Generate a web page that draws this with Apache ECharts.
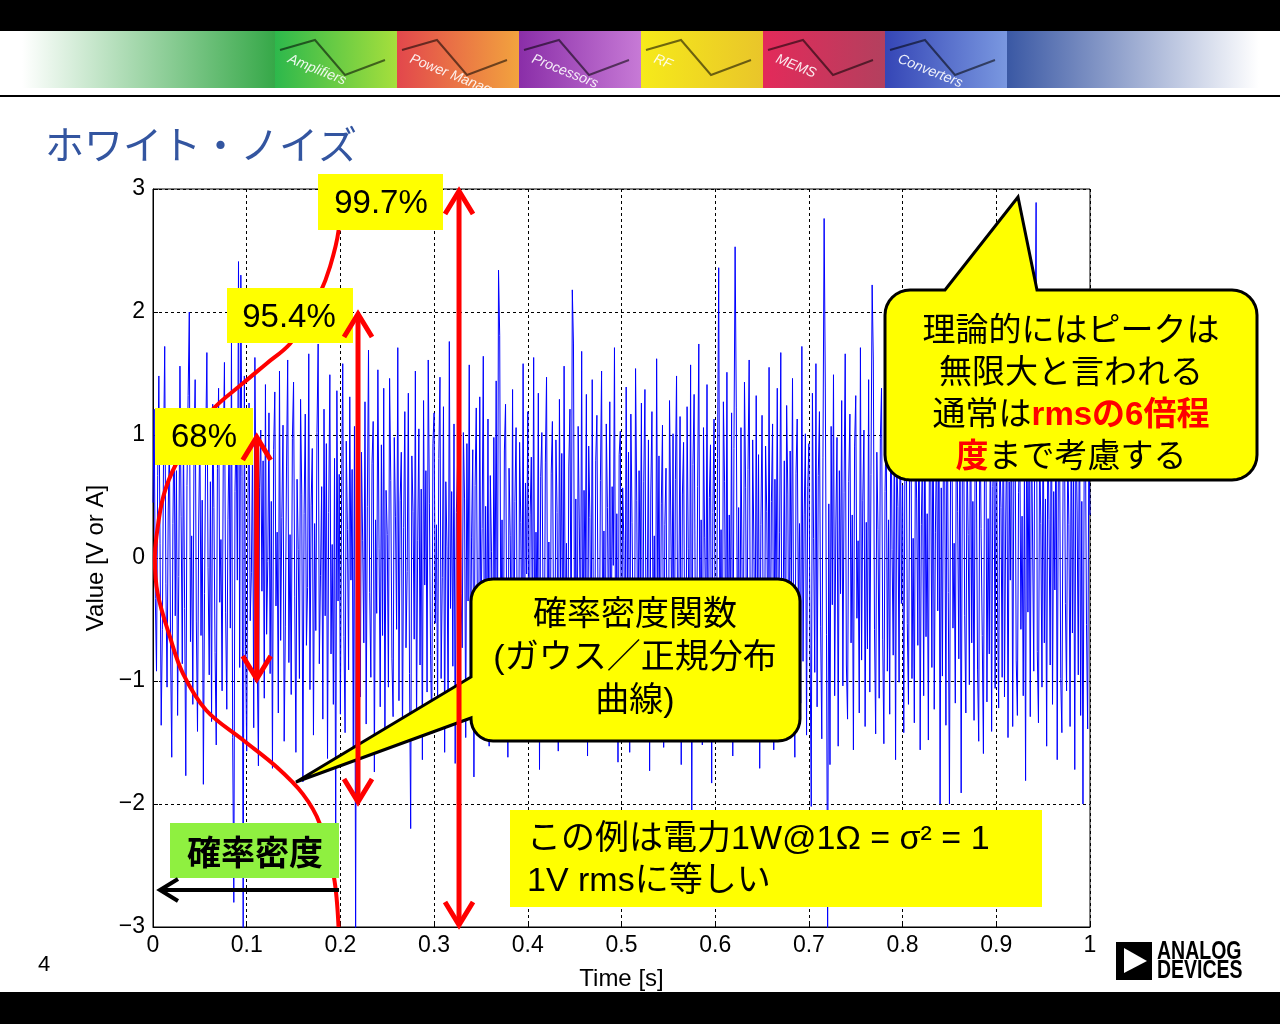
<!DOCTYPE html>
<html><head><meta charset="utf-8">
<script src="https://cdn.jsdelivr.net/npm/echarts/dist/echarts.min.js"></script>
<style>html,body{margin:0;padding:0;background:#fff}#c{width:1280px;height:1024px}</style>
</head><body><div id="c"></div>
<script>
// ---- data ----
const noiseValues = [
0.45,1.21,-0.33,-0.92,0.67,1.48,0.12,-1.36,-0.58,0.83,1.72,-0.21,-1.05,0.39,0.96,-0.74,-1.62,0.28,1.14,-0.47,
0.71,-1.28,-0.15,1.56,0.34,-0.86,1.03,-0.41,-1.77,0.59,1.32,2.0,-0.68,0.18,-1.19,0.87,1.45,-0.52,-1.41,0.26,
1.09,-0.63,0.47,-1.84,-0.29,0.94,1.67,-0.08,-0.95,0.62,-1.33,1.25,0.41,-0.77,-1.52,0.73,1.38,-0.36,0.15,-1.08,
0.82,1.59,-0.44,-1.23,0.31,0.99,-0.57,1.77,-1.46,-2.8,0.54,1.12,-0.18,2.41,-0.89,2.3,0.66,-3.1,1.48,-0.72,
-1.57,0.38,1.26,-0.51,-0.12,0.91,-1.38,1.63,0.24,-0.83,-1.69,0.57,1.04,-0.27,0.79,-1.14,1.41,-0.62,-0.03,1.18,
-0.94,0.46,-1.71,0.88,1.35,-0.39,0.21,-1.26,1.52,-0.67,0.33,1.08,-1.49,-0.56,0.74,1.61,-0.85,0.19,-1.11,0.97,
1.43,-0.31,-1.58,0.64,0.07,-0.98,1.29,0.52,-1.82,0.36,1.17,-0.71,-0.24,1.66,-1.07,0.43,0.89,-1.44,0.28,-0.59,
1.02,1.74,-0.86,-0.14,0.58,-1.31,1.21,-0.47,0.93,-1.63,0.37,1.49,-0.78,0.11,-1.19,0.81,-2.4,1.36,-0.35,0.68,
-1.27,0.49,1.58,-0.64,-1.42,0.95,0.23,-0.91,1.31,-0.18,0.72,-1.56,1.07,-3.05,0.61,1.44,-0.52,-1.13,0.86,0.14,
-0.69,1.27,-1.35,0.42,1.69,-0.28,-0.97,0.77,1.11,-1.74,0.31,-0.45,1.53,0.08,-1.21,0.92,-0.63,1.38,-1.48,0.55,
0.19,-1.05,1.46,0.63,-0.82,-1.29,0.98,0.34,-0.58,1.71,-1.16,0.47,0.86,-1.51,0.25,1.19,-0.73,-0.11,1.34,-0.94,
-2.2,0.83,0.38,-0.66,1.52,-1.37,0.14,1.05,-0.87,0.56,-1.64,1.28,-0.22,0.71,-1.09,1.61,0.44,-0.79,-1.43,0.93,
1.18,-0.53,0.27,-1.22,0.81,1.47,-0.98,-0.16,1.23,-1.58,0.62,0.09,-1.31,1.76,-0.41,0.54,-0.88,1.09,-1.67,0.37,
0.76,-1.14,1.38,-0.29,-0.73,1.02,0.48,-1.46,0.93,-0.35,1.57,-1.03,0.17,0.88,-1.78,0.59,1.22,-0.47,-0.95,1.31,
-0.61,0.24,1.64,-1.19,0.42,-0.84,1.13,-1.53,0.67,0.05,-1.26,0.98,-0.38,1.44,-1.01,2.34,1.81,-0.72,0.31,-1.39,
0.87,1.25,-0.56,-1.62,0.73,0.18,-0.94,1.37,-1.18,0.46,1.06,-0.69,-1.44,0.94,0.29,-0.83,1.58,-1.27,0.61,-0.13,
1.19,-1.49,0.35,0.82,-0.77,1.63,-1.06,0.21,-0.48,1.34,-1.72,0.66,1.02,-0.32,-1.13,0.78,1.47,-0.91,0.13,-1.35,
0.69,1.11,-0.59,-1.28,0.96,0.37,-1.57,1.29,-0.24,0.85,-1.09,1.56,-0.66,0.12,-1.41,0.74,1.21,-0.87,2.18,1.74,
-0.93,0.48,-1.36,1.07,0.26,-0.71,1.68,-1.24,0.55,-0.17,1.33,-1.61,0.91,0.33,-1.02,1.45,-0.54,-1.31,0.79,1.16,
-0.46,-1.18,0.63,1.52,-0.89,0.22,-1.47,1.09,0.41,-0.76,1.27,-1.33,0.58,-0.06,1.71,-0.97,0.36,-1.66,0.84,1.03,
-1.21,0.57,0.14,-0.92,1.39,-0.44,0.86,-1.58,1.17,0.29,-0.68,-1.38,1.54,0.47,-1.04,0.71,-0.23,1.26,-1.49,0.62,
1.37,-0.81,-0.27,0.96,-1.73,0.52,1.19,-0.61,0.18,-1.25,1.62,-0.39,0.83,-1.12,0.44,1.08,-1.54,0.27,0.73,-0.96,
-1.43,1.28,0.39,-0.58,1.01,-1.19,0.64,1.48,-0.86,-0.21,1.15,-1.68,0.52,0.94,-0.73,-1.36,1.23,0.08,-0.99,1.57,
-2.1,0.76,1.33,-0.42,-1.09,0.58,1.74,-0.95,0.31,-1.52,1.06,0.17,-0.64,1.41,-1.27,0.49,0.92,-1.83,0.37,1.13,
-0.55,-1.16,0.81,2.36,-0.74,0.23,-1.42,1.27,0.62,-0.97,1.51,-1.08,0.35,-0.46,1.18,-1.61,0.89,2.53,1.22,-0.81,
0.41,-1.35,1.06,-0.19,-0.88,1.43,0.57,-1.24,0.72,1.61,-0.66,-1.47,0.96,0.13,-1.01,1.32,-0.53,0.84,-1.71,0.27,
1.16,-0.62,-1.29,0.91,0.38,-0.83,1.55,-1.14,0.46,1.09,-1.56,0.64,-0.31,1.38,-0.92,0.21,1.67,-1.23,-0.44,0.79,
-1.06,1.24,0.52,-1.39,0.87,-0.25,1.46,-0.78,-1.62,0.69,1.13,-0.47,0.28,-1.18,1.72,-0.84,0.35,1.01,-1.44,0.58,
0.93,-0.71,-2.02,1.34,0.16,-0.93,1.58,-1.21,0.67,1.19,-0.56,-1.47,0.82,2.76,1.39,-0.62,-3.1,0.44,-1.68,1.07,
-0.38,1.49,-1.12,0.26,0.98,-1.53,0.71,-0.29,1.28,-1.04,0.53,1.66,-0.87,-1.31,0.62,1.17,-0.69,0.35,-1.56,0.91,
1.32,-0.49,0.14,-1.26,1.71,-0.83,0.47,1.04,-1.37,0.29,-0.74,1.45,-1.09,0.68,2.22,1.61,-0.58,-1.43,0.86,0.23,
-1.14,0.97,1.38,-0.66,-1.51,0.54,1.12,-0.92,0.31,-1.27,1.54,0.07,-0.79,1.23,-1.64,0.83,0.42,-1.01,1.36,-0.37,
0.59,-1.42,0.88,1.27,-0.53,-1.19,0.74,1.63,-0.98,0.16,-1.34,1.06,0.48,-0.71,1.48,-1.56,0.27,0.93,-1.12,1.19,
-0.64,0.36,-1.48,1.14,0.79,-0.89,1.52,-1.23,0.21,0.98,-0.43,1.36,-2.0,0.57,-0.96,1.22,0.63,-1.36,1.69,-0.28,
-2.0,0.84,1.29,-0.57,0.12,-1.18,1.46,0.38,-0.82,1.07,-1.91,0.66,1.34,-0.47,-1.26,0.92,0.19,-1.03,1.58,-0.69,
0.46,-1.32,1.11,0.73,-0.91,-1.49,1.37,0.24,-0.63,-1.59,0.97,1.43,-1.17,0.32,-0.78,1.26,-1.41,0.58,0.87,-1.06,
1.54,-0.34,-1.22,0.89,0.41,-0.97,1.67,-1.13,0.26,1.08,-1.46,0.62,-0.18,1.31,-1.37,0.77,1.19,-0.83,-1.28,0.53,
1.02,-0.58,0.34,-1.12,0.69,-1.81,1.43,-0.44,0.86,-1.29,1.21,0.13,-0.92,1.57,2.89,-0.76,-1.34,0.97,0.28,-1.05,
1.36,-0.69,0.48,-1.53,1.13,0.31,-0.87,1.62,-1.19,0.54,-0.26,1.28,-1.64,0.79,1.05,-0.98,-1.42,0.63,1.47,-0.37,
-1.08,0.92,0.27,-1.37,1.24,-0.61,0.83,-1.72,1.16,0.39,-0.95,1.51,-1.28,0.46,-2.0,0.71,1.18,-0.54,-1.39,0.96,
0.35
];
const pdfCurveX = [0.200,0.198,0.189,0.178,0.163,0.146,0.121,0.096,0.064,0.045,0.025,0.011,0.0036,0.002,0.005,0.018,0.032,0.057,0.096,0.132,0.160,0.178,0.193,0.198];
const pdfCurveY = [3.0,2.66,2.37,2.15,1.95,1.74,1.58,1.42,1.21,1.0,0.77,0.5,0.17,0,-0.29,-0.64,-0.94,-1.24,-1.48,-1.70,-1.92,-2.16,-2.59,-3.0];
const arrowX = [0.1107, 0.2188, 0.3266];
const arrowHalfSpan = [1, 2, 3];
const percentLabels = ['68%', '95.4%', '99.7%'];

// ---- styling ----
const LAT = "'Liberation Sans', Arial, 'Noto Sans CJK JP', sans-serif";
const JP = "'Liberation Sans', 'Noto Sans CJK JP', sans-serif";
const Z = 50;
const bannerSegs = [
  {x:275, c1:'#2db84c', c2:'#a6df3c', label:'Amplifiers'},
  {x:397, c1:'#e2474c', c2:'#f2a33e', label:'Power Management'},
  {x:519, c1:'#8a2ea8', c2:'#c77ad6', label:'Processors'},
  {x:641, c1:'#f6ea1a', c2:'#e9c52a', label:'RF'},
  {x:763, c1:'#e32a5a', c2:'#b3405e', label:'MEMS'},
  {x:885, c1:'#3546b6', c2:'#7a98e0', label:'Converters'}
];
function grad(c1, c2){ return {type:'linear', x:0, y:0, x2:1, y2:0, colorStops:[{offset:0,color:c1},{offset:1,color:c2}]}; }
function arcPts(cx, cy, r, a0, a1){
  var pts = [], n = 8;
  for (var k = 0; k <= n; k++){ var a = (a0 + (a1 - a0) * k / n) * Math.PI / 180; pts.push([cx + r*Math.cos(a), cy + r*Math.sin(a)]); }
  return pts;
}
function calloutPts(x, y, w, h, r, topInsert, leftInsert){
  var p = [];
  p.push([x+r, y]);
  (topInsert || []).forEach(function(q){ p.push(q); });
  p = p.concat(arcPts(x+w-r, y+r, r, -90, 0));
  p = p.concat(arcPts(x+w-r, y+h-r, r, 0, 90));
  p = p.concat(arcPts(x+r, y+h-r, r, 90, 180));
  (leftInsert || []).forEach(function(q){ p.push(q); });
  p = p.concat(arcPts(x+r, y+r, r, 180, 270));
  return p;
}

const graphics = [];
graphics.push({type:'rect', z:Z, shape:{x:0,y:0,width:1280,height:31}, style:{fill:'#000'}});
graphics.push({type:'rect', z:Z, shape:{x:0,y:31,width:275,height:57}, style:{fill:{type:'linear',x:0,y:0,x2:1,y2:0,colorStops:[{offset:0,color:'#ffffff'},{offset:0.08,color:'#ffffff'},{offset:1,color:'#36a848'}]}}});
bannerSegs.forEach(function(s){
  graphics.push({type:'rect', z:Z, shape:{x:s.x,y:31,width:122,height:57}, style:{fill:grad(s.c1, s.c2)}});
  graphics.push({type:'polyline', z:Z+1, shape:{points:[[s.x+5,50],[s.x+40,40],[s.x+70,75],[s.x+110,60]]}, style:{stroke:'rgba(0,0,0,0.55)', lineWidth:2, fill:null}});
  graphics.push({type:'text', z:Z+2, x:s.x+16, y:52, rotation:-0.38, style:{text:s.label, fill:'rgba(255,255,255,0.9)', font:"italic 14px 'Liberation Sans Narrow', 'Liberation Sans', sans-serif"}});
});
graphics.push({type:'rect', z:Z, shape:{x:1007,y:31,width:265,height:57}, style:{fill:{type:'linear',x:0,y:0,x2:1,y2:0,colorStops:[{offset:0,color:'#3a58a4'},{offset:0.95,color:'#ffffff'},{offset:1,color:'#ffffff'}]}}});
graphics.push({type:'rect', z:Z+3, shape:{x:0,y:88,width:1280,height:7}, style:{fill:'#fff'}});
graphics.push({type:'rect', z:Z+3, shape:{x:0,y:95,width:1280,height:2}, style:{fill:'#000'}});
// title
graphics.push({type:'text', z:Z, style:{text:'ホワイト・ノイズ', x:45, y:144, verticalAlign:'middle', fill:'#3355a0', font:"39px 'Noto Sans CJK JP', sans-serif"}});
// bottom bar, page number, logo
graphics.push({type:'rect', z:Z, shape:{x:0,y:992,width:1280,height:32}, style:{fill:'#000'}});
graphics.push({type:'text', z:Z, style:{text:'4', x:38, y:965, verticalAlign:'middle', fill:'#000', font:"22px "+LAT}});
graphics.push({type:'rect', z:Z, shape:{x:1116,y:942,width:36,height:38}, style:{fill:'#000'}});
graphics.push({type:'polygon', z:Z+1, shape:{points:[[1124,948],[1124,973],[1147,961]]}, style:{fill:'#fff'}});
graphics.push({type:'text', z:Z, x:1157, y:952, scaleX:0.78, style:{text:'ANALOG', x:0, y:0, verticalAlign:'middle', fill:'#000', font:"bold 25px 'Liberation Sans', Arial, sans-serif"}});
graphics.push({type:'text', z:Z, x:1157, y:971, scaleX:0.78, style:{text:'DEVICES', x:0, y:0, verticalAlign:'middle', fill:'#000', font:"bold 25px 'Liberation Sans', Arial, sans-serif"}});

// percentage boxes
const pctBoxes = [
  {x:155, y:408, w:98, h:57, tx:204, ty:438},
  {x:227, y:288, w:126, h:55, tx:289, ty:318},
  {x:318, y:174, w:125, h:56, tx:381, ty:204}
];
pctBoxes.forEach(function(b, i){
  graphics.push({type:'rect', z:Z, shape:{x:b.x,y:b.y,width:b.w,height:b.h}, style:{fill:'#ffff00'}});
  graphics.push({type:'text', z:Z+1, style:{text:percentLabels[i], x:b.tx, y:b.ty, align:'center', verticalAlign:'middle', fill:'#000', font:"33px "+LAT}});
});

// green box and black arrow
graphics.push({type:'rect', z:Z, shape:{x:170,y:823,width:169,height:55}, style:{fill:'#8ff040'}});
graphics.push({type:'text', z:Z+1, style:{text:'確率密度', x:255, y:852, align:'center', verticalAlign:'middle', fill:'#000', font:"bold 34px 'Noto Sans CJK JP', sans-serif"}});
graphics.push({type:'line', z:Z, shape:{x1:339,y1:890,x2:161,y2:890}, style:{stroke:'#000', lineWidth:4}});
graphics.push({type:'polyline', z:Z, shape:{points:[[178,879],[160,890],[178,901]]}, style:{stroke:'#000', lineWidth:4, fill:null}});

// bottom yellow note
graphics.push({type:'rect', z:Z, shape:{x:510,y:810,width:532,height:97}, style:{fill:'#ffff00'}});
graphics.push({type:'text', z:Z+1, style:{text:'この例は電力1W@1Ω = σ² = 1', x:527, y:840, verticalAlign:'middle', fill:'#000', font:"34px "+JP}});
graphics.push({type:'text', z:Z+1, style:{text:'1V rmsに等しい', x:527, y:882, verticalAlign:'middle', fill:'#000', font:"34px "+JP}});

// callout 1 (pdf)
graphics.push({type:'polygon', z:Z, shape:{points:calloutPts(471, 579, 329, 162, 22, null, [[471,718],[296,782],[471,677]])}, style:{fill:'#ffff00', stroke:'#000', lineWidth:3, lineJoin:'miter'}});
graphics.push({type:'text', z:Z+1, style:{text:'確率密度関数\n(ガウス／正規分布\n曲線)', x:635, y:659, align:'center', verticalAlign:'middle', lineHeight:43, fill:'#000', font:"34px "+JP}});

// callout 2 (peak)
graphics.push({type:'polygon', z:Z, shape:{points:calloutPts(885, 290, 372, 190, 25, [[945,290],[1018,197],[1037,290]], null)}, style:{fill:'#ffff00', stroke:'#000', lineWidth:3, lineJoin:'miter'}});
graphics.push({type:'text', z:Z+1, style:{
  text:'理論的にはピークは\n無限大と言われる\n通常は{r|rmsの6倍程}\n{r|度}まで考慮する',
  x:1071, y:395, align:'center', verticalAlign:'middle', lineHeight:42, fill:'#000', fontSize:33, fontFamily:JP,
  rich:{r:{fill:'#ff0000', fontWeight:'bold', fontSize:33, fontFamily:JP, lineHeight:42}}
}});

const chart = echarts.init(document.getElementById('c'), null, {renderer:'canvas', width:1280, height:1024});
const tickFont = {color:'#000', fontSize:23, fontFamily:LAT};
const nameFont = {color:'#000', fontSize:24, fontFamily:LAT};
chart.setOption({
  animation:false,
  backgroundColor:'#ffffff',
  grid:{left:153, right:190, top:189, bottom:97, show:true, borderColor:'#000', borderWidth:1, backgroundColor:'#fff'},
  xAxis:{type:'value', min:0, max:1, interval:0.1,
    axisLine:{show:true, onZero:false, lineStyle:{color:'#000'}},
    axisTick:{show:true, inside:true, length:5, lineStyle:{color:'#000'}},
    axisLabel:Object.assign({margin:7, formatter:function(v){return String(Math.round(v*10)/10);}}, tickFont),
    splitLine:{show:true, lineStyle:{color:'#000', width:1, type:[3,3]}},
    name:'Time [s]', nameLocation:'middle', nameGap:40, nameTextStyle:nameFont},
  yAxis:{type:'value', min:-3, max:3, interval:1,
    axisLine:{show:true, onZero:false, lineStyle:{color:'#000'}},
    axisTick:{show:true, inside:true, length:5, lineStyle:{color:'#000'}},
    axisLabel:Object.assign({margin:8, formatter:function(v){return v<0 ? '\u2212'+(-v) : String(v);}}, tickFont),
    splitLine:{show:true, lineStyle:{color:'#000', width:1, type:[3,3]}},
    name:'Value [V or A]', nameLocation:'middle', nameGap:43, nameTextStyle:nameFont},
  series:[
    {type:'line', name:'noise', z:2, symbol:'none', showSymbol:false, clip:true,
     lineStyle:{color:'#0000ff', width:1},
     data:noiseValues.map(function(v,i){return [i/(noiseValues.length-1), v];})},
    {type:'line', name:'pdf', z:5, symbol:'none', showSymbol:false, smooth:0.35, clip:true,
     lineStyle:{color:'#ff0000', width:4},
     data:pdfCurveX.map(function(x,i){return [x, pdfCurveY[i]];})},
    {type:'custom', name:'arrows', z:80, clip:false, silent:true,
     data:arrowX.map(function(x,i){return [x, arrowHalfSpan[i]];}),
     renderItem:function(params, api){
       var x = api.value(0), s = api.value(1);
       var t = api.coord([x, s]), b = api.coord([x, -s]);
       var st = {stroke:'#ff0000', lineWidth:5, fill:null, lineJoin:'miter', lineCap:'butt'};
       return {type:'group', children:[
         {type:'line', shape:{x1:t[0], y1:t[1]+4, x2:b[0], y2:b[1]-4}, style:st},
         {type:'polyline', shape:{points:[[t[0]-14,t[1]+25],[t[0],t[1]+2],[t[0]+14,t[1]+25]]}, style:st},
         {type:'polyline', shape:{points:[[b[0]-14,b[1]-25],[b[0],b[1]-2],[b[0]+14,b[1]-25]]}, style:st}
       ]};
     }}
  ],
  graphic:graphics
});
</script>
</body></html>
